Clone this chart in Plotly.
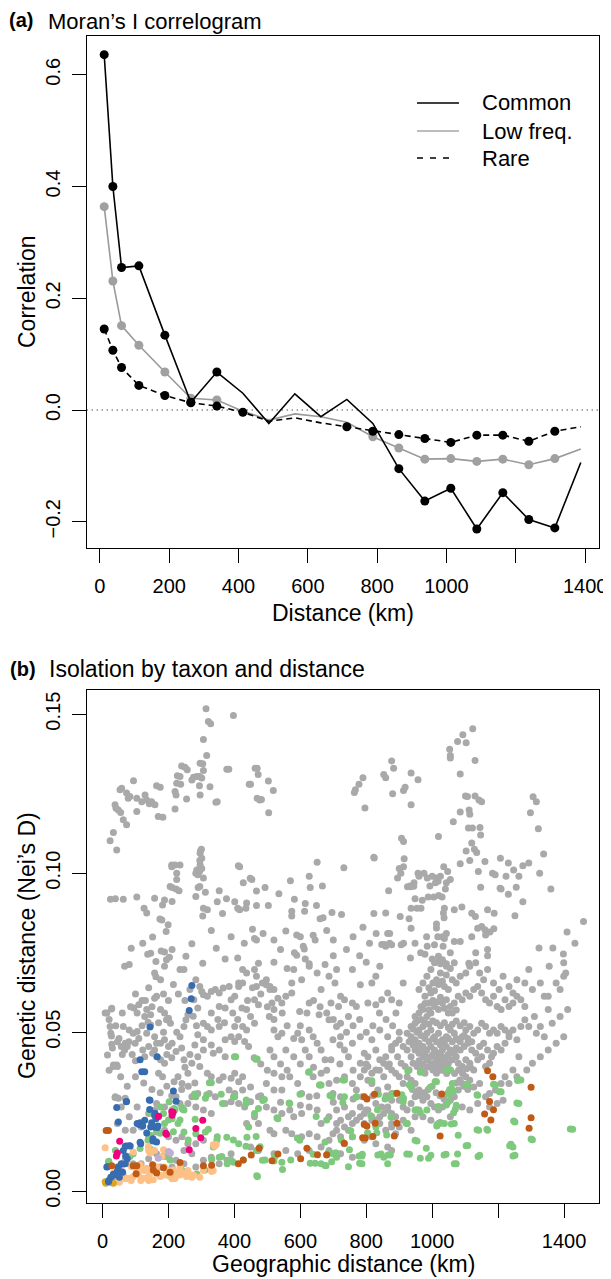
import plotly.graph_objects as go

W, H = 611, 1279
PAGE_OFFSET = 8  # the page body margin that sits round the figure div
FONT = "Liberation Sans, Arial, sans-serif"

# ---------------- (a) Moran's I correlogram ----------------
lag_km = [12.5, 37.5, 62.5, 112.5, 187.5, 262.5, 337.5, 412.5, 487.5, 562.5, 637.5,
          712.5, 787.5, 862.5, 937.5, 1012.5, 1087.5, 1162.5, 1237.5, 1312.5, 1387.5]
common = [0.636, 0.400, 0.255, 0.258, 0.134, 0.014, 0.068, 0.030, -0.024, 0.029, -0.012,
          0.019, -0.024, -0.105, -0.163, -0.140, -0.213, -0.148, -0.196, -0.211, -0.094]
low_freq = [0.364, 0.231, 0.151, 0.116, 0.068, 0.021, 0.018, -0.002, -0.018, -0.007, -0.012,
            -0.022, -0.048, -0.068, -0.088, -0.087, -0.092, -0.088, -0.098, -0.087, -0.070]
rare = [0.145, 0.107, 0.076, 0.044, 0.026, 0.013, 0.007, -0.004, -0.020, -0.014, -0.023,
        -0.030, -0.038, -0.044, -0.051, -0.058, -0.045, -0.045, -0.056, -0.038, -0.030]
# classes drawn with a point
common_pt = [1, 1, 1, 1, 1, 1, 1, 0, 0, 0, 0, 0, 0, 1, 1, 1, 1, 1, 1, 1, 0]
low_pt = [1, 1, 1, 1, 1, 1, 1, 0, 0, 0, 0, 0, 1, 1, 1, 1, 1, 1, 1, 1, 0]
rare_pt = [1, 1, 1, 1, 1, 1, 1, 1, 0, 0, 0, 1, 1, 1, 1, 1, 1, 1, 1, 1, 0]
series_names = ["Common", "Low freq.", "Rare"]

# ---------------- (b) Isolation by taxon and distance (km, Nei's D) ----------------
pairs_gray = [
    (314, 0.1517), (397, 0.1496), (321, 0.1477), (328, 0.1470), (306, 0.1420), (316, 0.1370),
    (296, 0.1346), (304, 0.1344), (306, 0.1323), (294, 0.1304), (301, 0.1299), (286, 0.1304),
    (271, 0.1293), (276, 0.1302), (257, 0.1325), (250, 0.1333), (240, 0.1337), (235, 0.1304),
    (227, 0.1306), (225, 0.1283), (220, 0.1257), (223, 0.1246), (237, 0.1280), (255, 0.1233),
    (294, 0.1275), (296, 0.1246), (326, 0.1272), (344, 0.1223), (377, 0.1327), (220, 0.1202),
    (58, 0.1267), (53, 0.1262), (73, 0.1252), (78, 0.1236), (83, 0.1241), (94, 0.1291),
    (104, 0.1236), (119, 0.1225), (129, 0.1246), (134, 0.1230), (142, 0.1218), (149, 0.1225),
    (159, 0.1215), (164, 0.1275), (175, 0.1270), (104, 0.1194), (169, 0.1178), (183, 0.1176),
    (38, 0.1215), (41, 0.1204), (48, 0.1199), (55, 0.1191), (63, 0.1168), (73, 0.1152),
    (33, 0.1128), (23, 0.1102), (43, 0.1073),
    (296, 0.1063), (301, 0.1047), (296, 0.1026), (286, 0.1010), (294, 0.1005), (210, 0.1026),
    (220, 0.1026), (235, 0.1026), (225, 0.1000), (412, 0.1023), (448, 0.0984),
    (463, 0.1330), (445, 0.1280), (469, 0.1236),
    (449, 0.1280), (469, 0.1330), (472, 0.1310), (477, 0.1230), (482, 0.1232), (503, 0.1290),
    (518, 0.1260), (504, 0.1190), (348, 0.1225), (383, 0.1327),
    (764, 0.1254), (767, 0.1262), (778, 0.1280), (790, 0.1300), (796, 0.1205), (853, 0.1310),
    (859, 0.1300), (877, 0.1353), (883, 0.1330), (880, 0.1250), (913, 0.1260), (918, 0.1270),
    (936, 0.1315), (957, 0.1294), (936, 0.1215), (1053, 0.1390), (1055, 0.1370), (1055, 0.1362),
    (1077, 0.1414), (1093, 0.1435), (1103, 0.1410), (1123, 0.1454), (1130, 0.1354), (1085, 0.1312),
    (1101, 0.1243), (1107, 0.1241), (1130, 0.1243), (1142, 0.1230), (1150, 0.1225), (1085, 0.1192),
    (1112, 0.1199), (1114, 0.1185), (1064, 0.1162), (1110, 0.1142), (1122, 0.1142), (1145, 0.1144),
    (1019, 0.1115), (1147, 0.1120), (1120, 0.1095), (1128, 0.1075), (1135, 0.1065), (1103, 0.1070),
    (1306, 0.1240), (1316, 0.1225), (1298, 0.1190), (1322, 0.1140), (1338, 0.1060), (1360, 0.0950),
    (1326, 0.1000),
    (1160, 0.1037), (1207, 0.1047), (1231, 0.1032), (1275, 0.1023), (1293, 0.1032), (1247, 0.1010),
    (1263, 0.0990), (1183, 0.1000), (1191, 0.0995), (1224, 0.0990), (1209, 0.0950), (1206, 0.0953),
    (1231, 0.0934), (1255, 0.0956), (1275, 0.0910), (1251, 0.0866), (1168, 0.0885), (1188, 0.0874),
    (1147, 0.0956), (1140, 0.1005), (1114, 0.1040), (1085, 0.1030), (1047, 0.1005), (1055, 0.0980),
    (1035, 0.1020), (1025, 0.0990), (1013, 0.0985), (1000, 0.0990), (975, 0.1000), (957, 0.1000),
    (960, 0.0990), (985, 0.0985), (945, 0.0970), (933, 0.0960), (925, 0.0957), (935, 0.0957),
    (944, 0.0959), (913, 0.1020), (900, 0.1015), (915, 0.1045), (913, 0.1100), (907, 0.1110),
    (905, 0.1000), (895, 0.0985), (868, 0.0945), (823, 0.1050), (970, 0.0915), (988, 0.0925),
    (1005, 0.0925), (1010, 0.0970), (1018, 0.0975), (1040, 0.0950), (1043, 0.0970), (1020, 0.0930),
    (1030, 0.0925), (993, 0.0960), (948, 0.0920), (936, 0.0890), (954, 0.0890), (966, 0.0890),
    (1037, 0.0890), (1067, 0.0885), (1090, 0.0894), (1120, 0.0874), (1131, 0.0864), (1138, 0.0827),
    (1150, 0.0832), (1160, 0.0822), (1175, 0.0815), (1187, 0.0825), (1162, 0.0806), (1120, 0.0800),
    (1085, 0.0785), (1067, 0.0785), (1043, 0.0810), (1036, 0.0860), (1034, 0.0875), (1013, 0.0840),
    (1013, 0.0828), (1017, 0.0800), (1031, 0.0800), (1037, 0.0795), (1033, 0.0770), (983, 0.0800),
    (985, 0.0770), (1007, 0.0775), (936, 0.0827), (930, 0.0857), (906, 0.0775), (913, 0.0780),
    (948, 0.0780), (859, 0.0875), (865, 0.0810), (871, 0.0810), (903, 0.0864), (859, 0.0770),
    (934, 0.0733), (965, 0.0750), (978, 0.0745), (1000, 0.0730), (1020, 0.0725), (1025, 0.0715),
    (1031, 0.0720), (1043, 0.0715), (1111, 0.0717), (1132, 0.0750), (1168, 0.0740), (1168, 0.0760),
    (1324, 0.0765), (1366, 0.0765), (1398, 0.0746), (1433, 0.0780), (1409, 0.0815), (1459, 0.0848),
    (1355, 0.0707),
    (205, 0.0958), (211, 0.0955), (223, 0.0950), (232, 0.0945), (225, 0.0980), (210, 0.1020),
    (283, 0.1000), (289, 0.0995), (295, 0.1010), (301, 0.1015), (306, 0.0985), (295, 0.1040),
    (297, 0.1070), (300, 0.1075), (290, 0.0955), (295, 0.0958), (283, 0.0927), (312, 0.0940),
    (306, 0.0890), (318, 0.0885), (304, 0.0865), (354, 0.0945), (348, 0.0910), (364, 0.0873),
    (376, 0.0920), (401, 0.0910), (410, 0.0890), (416, 0.0885), (416, 0.1020), (427, 0.0970),
    (437, 0.0906), (435, 0.0890), (453, 0.0980), (467, 0.0944), (467, 0.0898), (493, 0.0955),
    (503, 0.0898), (535, 0.0935), (570, 0.0976), (582, 0.0918), (615, 0.0905), (613, 0.0880),
    (627, 0.0990), (630, 0.0955), (651, 0.1034), (649, 0.0898), (667, 0.0960), (696, 0.0876),
    (725, 0.0870), (732, 0.1017), (824, 0.1048), (823, 0.0873),
    (24, 0.0918), (39, 0.0920), (63, 0.0918), (104, 0.0925), (126, 0.0890), (134, 0.0875),
    (158, 0.0921), (188, 0.0916), (182, 0.0900), (174, 0.0856), (180, 0.0853), (211, 0.0911),
    (199, 0.0838), (193, 0.0817), (122, 0.0780), (152, 0.0799), (87, 0.0764), (137, 0.0745),
    (146, 0.0748), (162, 0.0722), (178, 0.0755), (188, 0.0752), (203, 0.0736), (271, 0.0778),
    (304, 0.0717), (345, 0.0764), (372, 0.0730), (410, 0.0733), (455, 0.0824), (461, 0.0795),
    (467, 0.0790), (487, 0.0810), (473, 0.0717), (556, 0.0818), (574, 0.0865), (574, 0.0880),
    (589, 0.0806), (609, 0.0770), (612, 0.0762), (639, 0.0805), (645, 0.0790), (660, 0.0857),
    (669, 0.0860), (582, 0.0750), (589, 0.0742), (615, 0.0730), (627, 0.0715), (847, 0.0776),
    (855, 0.0776), (871, 0.0780), (877, 0.0775),
    (330, 0.0820), (390, 0.0800), (430, 0.0780), (520, 0.0790), (540, 0.0760), (600, 0.0800),
    (680, 0.0820), (700, 0.0790), (760, 0.0800), (790, 0.0830), (810, 0.0780), (830, 0.0810),
    (700, 0.0740), (740, 0.0760), (780, 0.0740), (800, 0.0720), (520, 0.0720), (560, 0.0700),
    (8, 0.0560), (28, 0.0575), (23, 0.0518), (25, 0.0497), (28, 0.0462), (33, 0.0397),
    (43, 0.0397), (38, 0.0295),
    (13, 0.0560), (27, 0.0573), (15, 0.0428), (27, 0.0488), (33, 0.0392), (45, 0.0392),
    (39, 0.0297), (48, 0.0292), (69, 0.0292), (57, 0.0455), (67, 0.0444), (75, 0.0455),
    (63, 0.0518), (81, 0.0507), (93, 0.0497), (105, 0.0502), (99, 0.0465), (69, 0.0465),
    (81, 0.0713), (67, 0.0707), (95, 0.0576), (110, 0.0586), (105, 0.0560), (128, 0.0549),
    (134, 0.0571), (146, 0.0555), (138, 0.0531), (146, 0.0523), (134, 0.0497), (158, 0.0486),
    (140, 0.0455), (152, 0.0434), (122, 0.0444), (128, 0.0423), (158, 0.0444), (164, 0.0423),
    (176, 0.0413), (188, 0.0402), (170, 0.0371), (182, 0.0360), (164, 0.0465), (176, 0.0465),
    (188, 0.0476), (200, 0.0455), (211, 0.0465), (223, 0.0439), (235, 0.0486), (247, 0.0518),
    (253, 0.0539), (259, 0.0555), (194, 0.0539), (200, 0.0544), (206, 0.0528), (176, 0.0571),
    (188, 0.0560), (158, 0.0607), (164, 0.0613), (162, 0.0674), (176, 0.0665), (158, 0.0686),
    (188, 0.0707), (211, 0.0760), (194, 0.0728), (235, 0.0697), (247, 0.0697), (253, 0.0739),
    (265, 0.0634), (277, 0.0602), (283, 0.0665), (295, 0.0644), (301, 0.0628), (289, 0.0576),
    (306, 0.0618), (318, 0.0613), (330, 0.0628), (342, 0.0634), (354, 0.0623), (366, 0.0639),
    (354, 0.0581), (372, 0.0576), (390, 0.0602), (401, 0.0613), (384, 0.0644), (413, 0.0644),
    (425, 0.0655), (423, 0.0576), (437, 0.0571), (461, 0.0602), (473, 0.0586), (467, 0.0644),
    (485, 0.0655), (497, 0.0649), (508, 0.0634), (506, 0.0549), (520, 0.0571), (532, 0.0607),
    (544, 0.0592), (514, 0.0592), (449, 0.0549), (461, 0.0528), (425, 0.0518), (437, 0.0507),
    (401, 0.0518), (401, 0.0471), (413, 0.0486), (431, 0.0471), (443, 0.0455), (306, 0.0528),
    (318, 0.0518), (330, 0.0507), (289, 0.0492), (306, 0.0476), (306, 0.0444), (289, 0.0423),
    (330, 0.0460), (336, 0.0434), (354, 0.0444), (372, 0.0423), (372, 0.0476), (390, 0.0486),
    (354, 0.0518), (271, 0.0402), (295, 0.0392), (259, 0.0371), (247, 0.0413), (229, 0.0360),
    (217, 0.0344), (241, 0.0339), (318, 0.0371), (330, 0.0360), (354, 0.0349), (366, 0.0360),
    (390, 0.0355), (401, 0.0371), (413, 0.0344), (425, 0.0360), (384, 0.0318), (401, 0.0307),
    (425, 0.0318), (449, 0.0328), (372, 0.0276), (390, 0.0281), (413, 0.0276), (431, 0.0265),
    (449, 0.0281), (473, 0.0297), (342, 0.0297), (324, 0.0307), (289, 0.0307), (271, 0.0297),
    (259, 0.0276), (283, 0.0265), (306, 0.0255), (330, 0.0244), (223, 0.0297), (235, 0.0276),
    (211, 0.0255), (164, 0.0276), (188, 0.0265), (140, 0.0244), (158, 0.0255), (105, 0.0265),
    (81, 0.0234), (57, 0.0265), (45, 0.0213), (69, 0.0192), (93, 0.0192), (117, 0.0202),
    (140, 0.0171), (164, 0.0186), (188, 0.0192), (200, 0.0171), (223, 0.0160), (241, 0.0171),
    (259, 0.0149), (283, 0.0149), (306, 0.0160), (247, 0.0128), (271, 0.0118), (200, 0.0107),
    (223, 0.0097), (164, 0.0118), (140, 0.0102), (117, 0.0086), (93, 0.0086), (69, 0.0097),
    (45, 0.0076), (33, 0.0044), (176, 0.0076), (211, 0.0076), (247, 0.0086), (283, 0.0076),
    (306, 0.0097), (330, 0.0107), (354, 0.0086), (378, 0.0097), (390, 0.0118),
    (20, 0.0540), (40, 0.0520), (50, 0.0480), (60, 0.0430), (80, 0.0470), (90, 0.0430),
    (100, 0.0410), (110, 0.0480), (120, 0.0520), (130, 0.0600), (150, 0.0580), (170, 0.0530),
    (185, 0.0500), (195, 0.0430), (210, 0.0420), (225, 0.0500), (240, 0.0450), (250, 0.0390),
    (265, 0.0430), (280, 0.0460), (285, 0.0520), (275, 0.0550), (250, 0.0600), (230, 0.0620),
    (215, 0.0650), (200, 0.0600), (185, 0.0620), (140, 0.0640), (120, 0.0600), (100, 0.0620),
    (85, 0.0580), (60, 0.0560), (45, 0.0470), (30, 0.0450), (20, 0.0380), (55, 0.0360),
    (75, 0.0330), (100, 0.0360), (125, 0.0340), (150, 0.0320), (175, 0.0310), (195, 0.0330),
    (210, 0.0300), (240, 0.0320), (260, 0.0330), (280, 0.0340),
    (425, 0.0697), (437, 0.0686), (413, 0.0655), (461, 0.0697), (467, 0.0676), (497, 0.0665),
    (508, 0.0644), (520, 0.0634), (556, 0.0613), (574, 0.0623), (574, 0.0655), (604, 0.0665),
    (580, 0.0697), (627, 0.0707), (651, 0.0686), (675, 0.0713), (687, 0.0676), (710, 0.0697),
    (705, 0.0655), (722, 0.0613), (734, 0.0602), (693, 0.0592), (716, 0.0581), (663, 0.0634),
    (627, 0.0592), (598, 0.0565), (657, 0.0555), (687, 0.0539), (710, 0.0518), (722, 0.0528),
    (746, 0.0549), (758, 0.0592), (770, 0.0581), (782, 0.0649), (817, 0.0655), (805, 0.0592),
    (829, 0.0586), (847, 0.0602), (865, 0.0623), (877, 0.0602), (900, 0.0592), (912, 0.0655),
    (829, 0.0676), (758, 0.0697), (841, 0.0707),
    (330, 0.0560), (350, 0.0540), (370, 0.0530), (395, 0.0560), (410, 0.0540), (440, 0.0600),
    (455, 0.0640), (480, 0.0620), (500, 0.0580), (520, 0.0540), (545, 0.0560), (560, 0.0520),
    (580, 0.0480), (600, 0.0520), (620, 0.0560), (640, 0.0600), (660, 0.0580), (680, 0.0560),
    (700, 0.0540), (720, 0.0460), (740, 0.0500), (760, 0.0520), (780, 0.0540), (800, 0.0500),
    (820, 0.0520), (840, 0.0560), (860, 0.0540), (880, 0.0520), (890, 0.0560), (900, 0.0500),
    (460, 0.0420), (480, 0.0400), (500, 0.0380), (540, 0.0400), (560, 0.0380), (600, 0.0400),
    (640, 0.0390), (680, 0.0380), (720, 0.0400), (760, 0.0380), (800, 0.0400), (840, 0.0380),
    (870, 0.0400), (480, 0.0300), (540, 0.0280), (600, 0.0270), (650, 0.0300), (700, 0.0280),
    (760, 0.0290), (820, 0.0300), (860, 0.0300),
    (520, 0.0507), (532, 0.0486), (544, 0.0497), (508, 0.0444), (520, 0.0423), (556, 0.0444),
    (580, 0.0423), (592, 0.0497), (604, 0.0476), (627, 0.0507), (639, 0.0486), (615, 0.0444),
    (627, 0.0423), (651, 0.0465), (663, 0.0444), (675, 0.0413), (693, 0.0413), (699, 0.0476),
    (722, 0.0486), (734, 0.0444), (746, 0.0423), (758, 0.0465), (782, 0.0486), (794, 0.0434),
    (805, 0.0423), (817, 0.0476), (829, 0.0444), (841, 0.0507), (865, 0.0486), (877, 0.0455),
    (859, 0.0423),
    (520, 0.0371), (544, 0.0360), (568, 0.0360), (592, 0.0339), (497, 0.0339), (520, 0.0318),
    (544, 0.0318), (604, 0.0307), (627, 0.0297), (639, 0.0360), (663, 0.0371), (687, 0.0339),
    (710, 0.0349), (699, 0.0307), (722, 0.0297), (734, 0.0360), (758, 0.0339), (782, 0.0360),
    (805, 0.0349), (770, 0.0318), (788, 0.0297), (817, 0.0339), (835, 0.0318), (853, 0.0360),
    (865, 0.0328), (877, 0.0307),
    (497, 0.0265), (520, 0.0255), (544, 0.0244), (568, 0.0255), (580, 0.0234), (604, 0.0244),
    (627, 0.0265), (651, 0.0255), (663, 0.0213), (687, 0.0234), (710, 0.0255), (734, 0.0265),
    (710, 0.0213), (746, 0.0234), (758, 0.0244), (782, 0.0265), (800, 0.0255), (794, 0.0213),
    (817, 0.0223), (829, 0.0276), (847, 0.0265), (841, 0.0213), (859, 0.0192), (865, 0.0265),
    (877, 0.0244), (877, 0.0202), (889, 0.0181), (461, 0.0234), (473, 0.0213), (437, 0.0213),
    (508, 0.0192), (520, 0.0181), (556, 0.0192), (574, 0.0181), (604, 0.0171), (627, 0.0181),
    (651, 0.0171), (687, 0.0160), (722, 0.0171), (734, 0.0149), (758, 0.0171), (794, 0.0160),
    (817, 0.0171), (829, 0.0149), (865, 0.0139), (877, 0.0128), (449, 0.0139), (473, 0.0128),
    (520, 0.0118), (556, 0.0128), (592, 0.0118), (627, 0.0128), (663, 0.0139), (687, 0.0128),
    (722, 0.0118), (758, 0.0107),
    (924, 0.0497), (936, 0.0486), (948, 0.0476), (960, 0.0465), (972, 0.0455), (984, 0.0444),
    (996, 0.0455), (1007, 0.0444), (1019, 0.0434), (1031, 0.0444), (1043, 0.0455), (1055, 0.0444),
    (1067, 0.0434), (948, 0.0444), (960, 0.0434), (972, 0.0423), (984, 0.0413), (996, 0.0423),
    (1007, 0.0402), (1019, 0.0413), (1031, 0.0402), (1043, 0.0423), (936, 0.0423), (924, 0.0444),
    (912, 0.0455), (900, 0.0476), (889, 0.0465), (877, 0.0444), (895, 0.0423), (906, 0.0402),
    (918, 0.0392), (930, 0.0381), (942, 0.0402), (954, 0.0392), (966, 0.0381), (978, 0.0371),
    (990, 0.0392), (1002, 0.0381), (1013, 0.0371), (1025, 0.0381), (1037, 0.0392), (1049, 0.0402),
    (1061, 0.0413), (1073, 0.0423), (1085, 0.0444), (1097, 0.0455), (1108, 0.0465), (1120, 0.0444),
    (1132, 0.0434), (1144, 0.0455), (1156, 0.0465), (1168, 0.0444), (1180, 0.0423), (1079, 0.0402),
    (1091, 0.0392), (1102, 0.0413), (1114, 0.0402), (1126, 0.0381), (1138, 0.0413), (1150, 0.0423),
    (1162, 0.0392), (1174, 0.0402), (1186, 0.0434), (1197, 0.0455), (1209, 0.0444), (1221, 0.0465),
    (1233, 0.0486), (1245, 0.0507), (1257, 0.0476),
    (930, 0.0470), (942, 0.0460), (954, 0.0450), (966, 0.0440), (978, 0.0430), (990, 0.0420),
    (1002, 0.0430), (1013, 0.0420), (1025, 0.0430), (1037, 0.0420), (1049, 0.0430), (1061, 0.0440),
    (1073, 0.0450), (942, 0.0510), (954, 0.0500), (966, 0.0490), (978, 0.0480), (990, 0.0470),
    (1002, 0.0480), (1013, 0.0470), (1025, 0.0460), (1037, 0.0470), (1049, 0.0480), (1061, 0.0470),
    (1073, 0.0480), (1085, 0.0470), (1097, 0.0490), (1108, 0.0480), (1120, 0.0470), (954, 0.0535),
    (966, 0.0540), (978, 0.0530), (990, 0.0525), (1002, 0.0535), (1013, 0.0530), (1025, 0.0520),
    (1037, 0.0530), (1049, 0.0515), (1061, 0.0525), (1073, 0.0535), (1085, 0.0520), (1097, 0.0530),
    (966, 0.0580), (978, 0.0590), (990, 0.0570), (1002, 0.0600), (1013, 0.0595), (1025, 0.0610),
    (1037, 0.0575), (1049, 0.0560), (1061, 0.0560), (1073, 0.0570), (990, 0.0640), (1007, 0.0630),
    (1019, 0.0650), (1031, 0.0660), (1043, 0.0680), (1055, 0.0700), (960, 0.0410), (972, 0.0400),
    (984, 0.0390), (996, 0.0400), (1008, 0.0390), (1020, 0.0395), (1032, 0.0380), (1044, 0.0370),
    (1056, 0.0380), (1068, 0.0370), (1080, 0.0380), (1092, 0.0370), (1104, 0.0385), (1116, 0.0390),
    (940, 0.0320), (952, 0.0310), (964, 0.0300), (976, 0.0310), (988, 0.0320), (1000, 0.0330),
    (1012, 0.0310), (1024, 0.0300), (1036, 0.0290), (1048, 0.0310), (1060, 0.0320), (1072, 0.0340),
    (1084, 0.0350), (1096, 0.0330), (1108, 0.0320),
    (936, 0.0518), (948, 0.0528), (960, 0.0507), (972, 0.0518), (984, 0.0497), (996, 0.0507),
    (1007, 0.0486), (1019, 0.0497), (1031, 0.0476), (1043, 0.0486), (1055, 0.0507), (1067, 0.0497),
    (1079, 0.0476), (1091, 0.0486), (1102, 0.0507), (1114, 0.0518), (1126, 0.0497), (1138, 0.0507),
    (1150, 0.0528), (1162, 0.0518), (1174, 0.0497), (1186, 0.0507), (1197, 0.0497), (1209, 0.0518),
    (1221, 0.0507), (1233, 0.0497),
    (948, 0.0549), (960, 0.0560), (972, 0.0571), (984, 0.0549), (996, 0.0560), (1007, 0.0581),
    (1019, 0.0571), (1031, 0.0592), (1043, 0.0602), (1055, 0.0581), (1067, 0.0592), (1079, 0.0613),
    (1091, 0.0602), (1102, 0.0623), (1114, 0.0613), (1126, 0.0634), (1138, 0.0644), (1150, 0.0623),
    (1162, 0.0602), (1174, 0.0592), (1186, 0.0613), (1197, 0.0581), (1209, 0.0571), (1221, 0.0602),
    (1233, 0.0581), (1245, 0.0592), (1257, 0.0613), (1269, 0.0602), (1281, 0.0581),
    (960, 0.0634), (972, 0.0655), (984, 0.0676), (996, 0.0697), (1007, 0.0718), (1019, 0.0739),
    (1031, 0.0728), (1043, 0.0707), (1055, 0.0750), (1067, 0.0718), (978, 0.0613), (990, 0.0592),
    (996, 0.0623), (1002, 0.0655), (1013, 0.0665), (1025, 0.0686), (1037, 0.0644), (1049, 0.0634),
    (1061, 0.0665), (1073, 0.0655), (1085, 0.0676), (1102, 0.0686), (1114, 0.0707), (1132, 0.0718),
    (1144, 0.0686), (1156, 0.0665), (1168, 0.0697), (1186, 0.0655), (1203, 0.0634), (1215, 0.0676),
    (1233, 0.0644), (1245, 0.0623), (1257, 0.0665), (1281, 0.0655), (1293, 0.0697), (1304, 0.0634),
    (1328, 0.0655), (1340, 0.0613), (1352, 0.0571), (1376, 0.0655), (1399, 0.0676), (1388, 0.0634),
    (1328, 0.0518), (1316, 0.0497), (1340, 0.0486), (1310, 0.0549), (1293, 0.0518), (1281, 0.0539),
    (1269, 0.0518), (1263, 0.0423), (1245, 0.0381), (1221, 0.0360), (1209, 0.0339), (1192, 0.0318),
    (1174, 0.0307), (1162, 0.0297), (1144, 0.0339), (1126, 0.0328), (1114, 0.0349), (1102, 0.0360),
    (1091, 0.0339), (1079, 0.0318), (1067, 0.0297), (1055, 0.0286), (1043, 0.0276), (1031, 0.0265),
    (1019, 0.0255), (1007, 0.0265), (996, 0.0276), (984, 0.0297), (972, 0.0286), (960, 0.0318),
    (948, 0.0339), (936, 0.0349), (924, 0.0360), (912, 0.0339), (900, 0.0360), (889, 0.0371),
    (877, 0.0381), (865, 0.0392), (853, 0.0402), (841, 0.0413), (829, 0.0381), (817, 0.0371),
    (805, 0.0392), (794, 0.0381), (782, 0.0402), (948, 0.0297), (936, 0.0276), (924, 0.0255),
    (912, 0.0265), (900, 0.0286), (889, 0.0307), (877, 0.0286), (865, 0.0255), (853, 0.0244),
    (841, 0.0234), (829, 0.0223), (817, 0.0234), (805, 0.0255), (794, 0.0244), (782, 0.0234),
    (770, 0.0223), (758, 0.0213), (746, 0.0192), (734, 0.0202), (722, 0.0223), (710, 0.0192),
    (699, 0.0181), (877, 0.0213), (889, 0.0234), (900, 0.0202), (912, 0.0223), (924, 0.0213),
    (936, 0.0192), (948, 0.0234), (960, 0.0255), (972, 0.0234), (996, 0.0223), (1019, 0.0213),
    (1055, 0.0234), (1091, 0.0265), (1114, 0.0255), (1138, 0.0276), (1174, 0.0265), (1197, 0.0276),
    (1215, 0.0286), (1233, 0.0339), (1257, 0.0360), (1287, 0.0381), (1304, 0.0402), (1328, 0.0423),
    (1352, 0.0444), (1376, 0.0465), (1399, 0.0486), (1388, 0.0549), (1364, 0.0528), (1352, 0.0613),
    (1411, 0.0571), (1405, 0.0686), (1399, 0.0718),
]

pairs_green = [
    (404, 0.0423), (469, 0.0416), (330, 0.0341), (283, 0.0297), (312, 0.0292), (241, 0.0263),
    (247, 0.0255), (217, 0.0260), (202, 0.0281), (143, 0.0247), (176, 0.0265), (185, 0.0244),
    (211, 0.0228), (229, 0.0213), (247, 0.0186), (188, 0.0213), (164, 0.0192), (146, 0.0176),
    (138, 0.0160), (114, 0.0134), (93, 0.0118), (71, 0.0107), (19, 0.0094), (39, 0.0128),
    (283, 0.0181), (312, 0.0186), (348, 0.0171), (336, 0.0139), (354, 0.0107), (378, 0.0086),
    (390, 0.0097), (364, 0.0276), (401, 0.0297), (435, 0.0276), (461, 0.0244), (473, 0.0260),
    (443, 0.0202), (413, 0.0149), (435, 0.0141), (467, 0.0128), (485, 0.0097), (470, 0.0046),
    (520, 0.0095), (546, 0.0068), (491, 0.0288), (532, 0.0228), (568, 0.0276), (598, 0.0160),
    (627, 0.0376), (663, 0.0334), (675, 0.0155), (639, 0.0116), (663, 0.0086), (675, 0.0081),
    (699, 0.0118), (710, 0.0107), (734, 0.0297), (734, 0.0350), (758, 0.0171), (788, 0.0116),
    (829, 0.0202), (853, 0.0107), (865, 0.0086), (871, 0.0297), (883, 0.0307), (912, 0.0281),
    (924, 0.0213), (936, 0.0328), (948, 0.0255), (966, 0.0376), (984, 0.0255), (996, 0.0113),
    (1013, 0.0344), (1049, 0.0281), (1053, 0.0383), (1061, 0.0339), (1073, 0.0270), (1079, 0.0176),
    (1037, 0.0213), (1067, 0.0213), (1108, 0.0334), (1138, 0.0302), (1108, 0.0144), (1144, 0.0113),
    (1141, 0.0192), (1168, 0.0192), (1192, 0.0334), (1209, 0.0313), (1239, 0.0148), (1245, 0.0139),
    (1251, 0.0113), (1251, 0.0218), (1263, 0.0276), (1269, 0.0350), (1304, 0.0162), (1426, 0.0195),
    (1073, 0.0086),
    (964, 0.0374), (1045, 0.0381), (729, 0.0350), (660, 0.0334), (697, 0.0297), (771, 0.0297),
    (729, 0.0279), (857, 0.0290), (837, 0.0305), (913, 0.0292), (931, 0.0334), (994, 0.0327),
    (1009, 0.0345), (1053, 0.0320), (1065, 0.0315), (1050, 0.0305), (1103, 0.0336), (1136, 0.0303),
    (1186, 0.0336), (1204, 0.0313), (1259, 0.0348), (1257, 0.0277), (1247, 0.0221), (1300, 0.0164),
    (1419, 0.0196), (1235, 0.0143), (1245, 0.0111), (1166, 0.0195), (1136, 0.0193), (1103, 0.0143),
    (1139, 0.0109), (1067, 0.0086), (1077, 0.0117), (1036, 0.0114), (1042, 0.0116), (1065, 0.0247),
    (1070, 0.0258), (1043, 0.0271), (1019, 0.0266), (1025, 0.0214), (1015, 0.0210), (1058, 0.0211),
    (964, 0.0247), (954, 0.0256), (982, 0.0135), (989, 0.0104), (964, 0.0104), (923, 0.0117),
    (931, 0.0116), (873, 0.0114), (866, 0.0114), (845, 0.0117), (835, 0.0114), (787, 0.0111),
    (778, 0.0111), (780, 0.0088), (787, 0.0086), (746, 0.0077), (709, 0.0120), (685, 0.0120),
    (678, 0.0080), (695, 0.0093), (749, 0.0130), (753, 0.0190), (724, 0.0161), (804, 0.0184),
    (832, 0.0184), (862, 0.0177), (814, 0.0237), (834, 0.0256), (875, 0.0233), (921, 0.0214),
    (948, 0.0160), (954, 0.0158), (1014, 0.0205), (1024, 0.0216), (908, 0.0303), (769, 0.0296),
    (817, 0.0347), (926, 0.0378), (680, 0.0114),
    (400, 0.0423), (465, 0.0415), (625, 0.0374), (658, 0.0334), (324, 0.0341), (279, 0.0306),
    (316, 0.0303), (360, 0.0305), (397, 0.0297), (436, 0.0287), (486, 0.0285), (529, 0.0231),
    (566, 0.0277), (599, 0.0305), (648, 0.0235), (680, 0.0224), (690, 0.0301), (220, 0.0256),
    (243, 0.0258), (200, 0.0224), (235, 0.0224), (281, 0.0226), (321, 0.0195), (347, 0.0161),
    (377, 0.0170), (397, 0.0161), (438, 0.0170), (466, 0.0172), (478, 0.0140), (493, 0.0098),
    (523, 0.0109), (544, 0.0091), (571, 0.0098), (591, 0.0167), (630, 0.0088), (645, 0.0088),
    (706, 0.0120), (468, 0.0049), (427, 0.0098), (397, 0.0091), (362, 0.0109), (331, 0.0100),
    (311, 0.0067), (286, 0.0054), (218, 0.0041), (260, 0.0161), (215, 0.0187), (175, 0.0182),
    (149, 0.0130), (83, 0.0109), (18, 0.0093), (185, 0.0109), (205, 0.0098), (240, 0.0067),
]

pairs_peach = [
    (8, 0.0137), (139, 0.0140), (144, 0.0120), (185, 0.0130), (180, 0.0109), (336, 0.0146),
    (331, 0.0062), (73, 0.0088), (88, 0.0077), (104, 0.0067), (114, 0.0083), (124, 0.0067),
    (134, 0.0072), (144, 0.0057), (154, 0.0067), (164, 0.0077), (33, 0.0057), (48, 0.0046),
    (63, 0.0051), (78, 0.0041), (93, 0.0046), (109, 0.0051), (124, 0.0041), (139, 0.0046),
    (154, 0.0036), (175, 0.0046), (190, 0.0051), (205, 0.0046), (220, 0.0041), (235, 0.0051),
    (255, 0.0046), (271, 0.0051), (195, 0.0062), (215, 0.0067), (235, 0.0067), (245, 0.0057),
    (340, 0.0141), (345, 0.0147), (330, 0.0070), (336, 0.0065), (271, 0.0044), (277, 0.0050),
    (247, 0.0055), (211, 0.0039), (223, 0.0055), (200, 0.0065), (176, 0.0050), (140, 0.0034),
    (116, 0.0034), (87, 0.0034), (69, 0.0039), (51, 0.0028), (158, 0.0128), (140, 0.0128),
    (93, 0.0123), (105, 0.0076), (128, 0.0065), (164, 0.0060), (188, 0.0076), (235, 0.0076),
    (259, 0.0065), (306, 0.0065), (295, 0.0044),
]

pairs_lavender = [(200, 0.0125), (169, 0.0104), (63, 0.0088), (58, 0.0080), (206, 0.0120), (45, 0.0065)]

pairs_gold = [(10, 0.0025), (33, 0.0025), (21, 0.0034), (8, 0.0030), (28, 0.0027)]

pairs_blue = [
    (271, 0.0647), (269, 0.0605), (263, 0.0568), (144, 0.0516), (114, 0.0413), (119, 0.0376),
    (128, 0.0376), (166, 0.0423), (215, 0.0315), (223, 0.0283), (144, 0.0286), (43, 0.0263),
    (72, 0.0281), (48, 0.0218), (105, 0.0213), (114, 0.0215), (119, 0.0210), (128, 0.0223),
    (143, 0.0257), (158, 0.0238), (162, 0.0228), (146, 0.0202), (158, 0.0202), (166, 0.0200),
    (116, 0.0149), (69, 0.0141), (81, 0.0143), (63, 0.0128), (164, 0.0155), (134, 0.0183),
    (57, 0.0086), (69, 0.0086), (75, 0.0102), (48, 0.0076), (45, 0.0063), (13, 0.0076),
    (25, 0.0044), (19, 0.0034), (33, 0.0053), (51, 0.0044), (61, 0.0060), (149, 0.0215),
    (159, 0.0245), (168, 0.0205), (153, 0.0165), (153, 0.0158), (114, 0.0154), (72, 0.0142),
    (84, 0.0142), (70, 0.0111), (15, 0.0077), (33, 0.0050), (18, 0.0030), (111, 0.0210),
    (122, 0.0205), (142, 0.0287), (73, 0.0282),
]

pairs_brown = [
    (11, 0.0191), (18, 0.0191), (28, 0.0080), (93, 0.0080), (104, 0.0080), (102, 0.0055),
    (152, 0.0083), (154, 0.0067), (164, 0.0057), (185, 0.0074), (205, 0.0060), (235, 0.0090),
    (306, 0.0080), (331, 0.0082), (412, 0.0086), (427, 0.0098), (451, 0.0114), (475, 0.0135),
    (514, 0.0096), (532, 0.0117), (601, 0.0102), (620, 0.0135), (652, 0.0115), (680, 0.0115),
    (733, 0.0151), (794, 0.0297), (802, 0.0290), (825, 0.0305), (794, 0.0210), (802, 0.0205),
    (827, 0.0214), (789, 0.0168), (797, 0.0167), (820, 0.0172), (893, 0.0308), (893, 0.0214),
    (885, 0.0174), (1029, 0.0306), (1024, 0.0174), (1168, 0.0379), (1184, 0.0360), (1174, 0.0282),
    (1186, 0.0256), (1159, 0.0243), (1178, 0.0224), (1300, 0.0327), (1300, 0.0231), (1294, 0.0198),
]

pairs_pink = [
    (52, 0.0157), (45, 0.0120), (42, 0.0111), (170, 0.0236), (194, 0.0179), (214, 0.0248),
    (263, 0.0130), (283, 0.0197), (298, 0.0168), (304, 0.0223), (211, 0.0239), (169, 0.0235),
    (210, 0.0250), (192, 0.0182),
]

# ---------------- figure ----------------
FW, FH = W - PAGE_OFFSET, H - PAGE_OFFSET


def px(x):
    return (x - PAGE_OFFSET) / FW


def py(y):
    return 1 - (y - PAGE_OFFSET) / FH


fig = go.Figure()

# panel (a)
styles = [
    (common, common_pt, "black", "black", "solid"),
    (low_freq, low_pt, "#9a9a9a", "#a0a0a0", "solid"),
    (rare, rare_pt, "black", "black", "6px,4px"),
]
for idx in [1, 2, 0]:
    vals, pts, lcol, mcol, dash = styles[idx]
    fig.add_trace(go.Scatter(x=lag_km, y=vals, mode="lines", showlegend=False,
                             line=dict(color=lcol, width=1.6, dash=dash),
                             xaxis="x", yaxis="y", hoverinfo="skip"))
    fig.add_trace(go.Scatter(x=[d for d, k in zip(lag_km, pts) if k],
                             y=[v for v, k in zip(vals, pts) if k],
                             mode="markers", showlegend=False, name=series_names[idx],
                             marker=dict(color=mcol, size=9),
                             xaxis="x", yaxis="y"))

# panel (b)
groups = [
    (pairs_gray, "#A9A9A9"),
    (pairs_green, "#7FC97F"),
    (pairs_peach, "#FDC086"),
    (pairs_lavender, "#BEAED4"),
    (pairs_gold, "#DAA520"),
    (pairs_blue, "#386CB0"),
    (pairs_brown, "#BF5B17"),
    (pairs_pink, "#F0027F"),
]
for pts, col in groups:
    fig.add_trace(go.Scatter(x=[p[0] for p in pts], y=[p[1] for p in pts], mode="markers",
                             showlegend=False, marker=dict(color=col, size=7, line=dict(width=0)),
                             xaxis="x2", yaxis="y2"))

axis_common = dict(showline=True, mirror=True, linecolor="black", linewidth=1.3,
                   ticks="outside", ticklen=14, tickwidth=1.3, tickcolor="black",
                   showgrid=False, zeroline=False, automargin=False,
                   tickfont=dict(size=20, color="black"))
km_ticks = [0, 200, 400, 600, 800, 1000, 1200, 1400]
km_text = ["0", "200", "400", "600", "800", "1000", "", "1400"]

fig.update_layout(
    width=FW, height=FH, margin=dict(l=0, r=0, t=0, b=0, autoexpand=False),
    paper_bgcolor="white", plot_bgcolor="white",
    font=dict(family=FONT, color="black"),
    xaxis=dict(domain=[px(86.7), px(599)], range=[-38, 1440], anchor="y",
               tickvals=km_ticks, ticktext=km_text, ticklabelstandoff=6, **axis_common),
    yaxis=dict(domain=[py(548), py(35.7)], range=[-0.247, 0.670], anchor="x",
               tickvals=[-0.2, 0, 0.2, 0.4, 0.6], ticktext=["\u22120.2", "0.0", "0.2", "0.4", "0.6"],
               tickangle=-90, ticklabelstandoff=4, **axis_common),
    xaxis2=dict(domain=[px(86.7), px(599)], range=[-48, 1506], anchor="y2",
                tickvals=km_ticks, ticktext=km_text, ticklabelstandoff=6, **axis_common),
    yaxis2=dict(domain=[py(1203.3), py(690)], range=[-0.0038, 0.1576], anchor="x2",
                tickvals=[0, 0.05, 0.10, 0.15], ticktext=["0.00", "0.05", "0.10", "0.15"],
                tickangle=-90, ticklabelstandoff=4, **axis_common),
)

# dotted zero line in (a)
fig.add_shape(type="line", xref="x domain", yref="y", x0=0, x1=1, y0=0, y1=0,
              line=dict(color="black", width=1.2, dash="1px,4px"))

# legend of (a)
legend_rows = [(103, "black", "solid", 459), (131, "#a6a6a6", "solid", 459), (158, "black", "6px,7px", 449)]
for (yy, col, dash, xend), label in zip(legend_rows, series_names):
    fig.add_shape(type="line", xref="paper", yref="paper", x0=px(417), x1=px(xend),
                  y0=py(yy), y1=py(yy), line=dict(color=col, width=1.6, dash=dash))
    fig.add_annotation(x=px(480), y=py(yy), xref="paper", yref="paper", text=label,
                       showarrow=False, xanchor="left", yanchor="middle", font=dict(size=22))

# panel titles sit at the very top edge of the figure, so anchor them by their top
titles = [
    (8, "<b>(a)</b>", 20),
    (47, "Moran\u2019s I correlogram", 22),
]
for xx, txt, size in titles:
    fig.add_annotation(x=px(xx), y=1, xref="paper", yref="paper", text=txt,
                       showarrow=False, xanchor="left", yanchor="top", font=dict(size=size),
                       borderpad=0)

texts = [
    (8, 669, "<b>(b)</b>", "left", 0, 20),
    (47, 669, "Isolation by taxon and distance", "left", 0, 23),
    (343, 613, "Distance (km)", "center", 0, 23),
    (343, 1264, "Geographic distance (km)", "center", 0, 23),
    (27, 292, "Correlation", "center", -90, 23),
    (27, 946, "Genetic distance (Nei\u2019s D)", "center", -90, 23),
]
for xx, yy, txt, anc, ang, size in texts:
    fig.add_annotation(x=px(xx), y=py(yy), xref="paper", yref="paper", text=txt,
                       showarrow=False, xanchor=anc, yanchor="middle", textangle=ang,
                       font=dict(size=size))

fig.write_html("out.html")
